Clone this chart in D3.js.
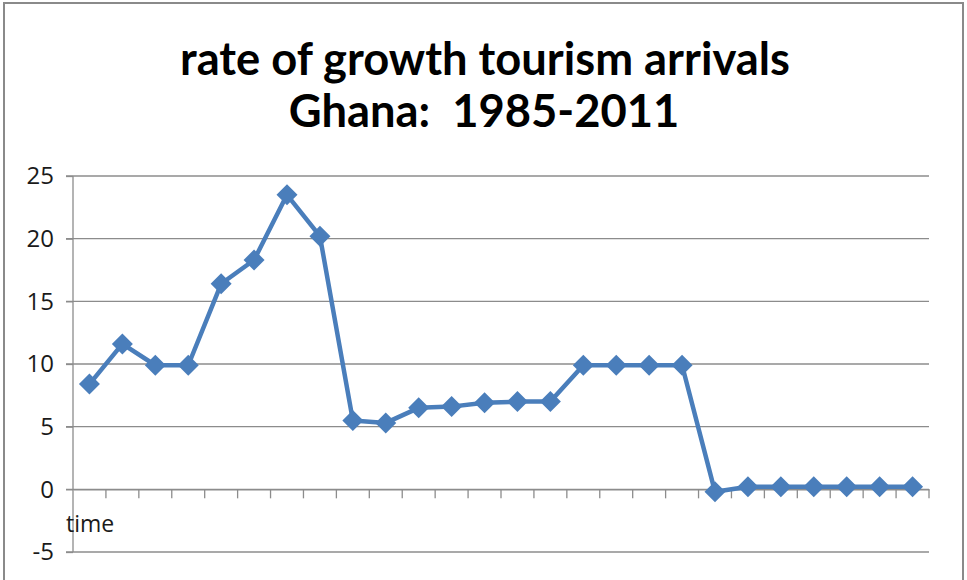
<!DOCTYPE html>
<html>
<head>
<meta charset="utf-8">
<script src="https://cdn.jsdelivr.net/npm/d3@7"></script>
<style>
  body { margin: 0; background: #fff; }
  svg { display: block; }
</style>
</head>
<body>
<div id="chart"></div>
<script>
// chart values
const titleLines = ["rate of growth tourism arrivals", "Ghana:  1985-2011"];
const years = [1986, 1987, 1988, 1989, 1990, 1991, 1992, 1993, 1994, 1995, 1996, 1997, 1998,
               1999, 2000, 2001, 2002, 2003, 2004, 2005, 2006, 2007, 2008, 2009, 2010, 2011];
const growth = [8.4, 11.6, 9.9, 9.9, 16.4, 18.3, 23.5, 20.2, 5.5, 5.3, 6.5, 6.6, 6.9,
                7.0, 7.0, 9.9, 9.9, 9.9, 9.9, -0.2, 0.2, 0.2, 0.2, 0.2, 0.2, 0.2];
const yTicks = [-5, 0, 5, 10, 15, 20, 25];
const axisLabel = "time";

const width = 967;
const height = 580;
const marginLeft = 73;
const marginRight = 38;
const blue = "#4a7ebb";
const gridColor = "#8c8c8c";

const svg = d3.select("#chart").append("svg")
    .attr("width", width)
    .attr("height", height)
    .attr("viewBox", [0, 0, width, height]);

// outer chart border
svg.append("rect")
    .attr("x", 4).attr("y", 3)
    .attr("width", 959).attr("height", 600)
    .attr("fill", "none")
    .attr("stroke", "#8a8a8a")
    .attr("stroke-width", 2);

// title, shrunk to the width it has in the reference
const title = svg.append("g")
    .attr("font-family", "Lato, 'Open Sans', sans-serif")
    .attr("font-weight", 700)
    .attr("fill", "#000")
    .attr("text-anchor", "middle");
const t1 = title.append("text").attr("x", 485).attr("y", 75).attr("font-size", 44).text(titleLines[0]);
const w1 = t1.node().getComputedTextLength();
const fs = 44 * 610 / w1;
t1.attr("font-size", fs);
title.append("text").attr("x", 484).attr("y", 127).attr("font-size", fs)
    .attr("xml:space", "preserve").style("white-space", "pre").text(titleLines[1]);

// scales
const x = d3.scaleBand()
    .domain(years)
    .range([marginLeft, width - marginRight]);

const y = d3.scaleLinear()
    .domain([-5, 25])
    .range([552, 176]);

// gridlines
svg.append("g")
    .attr("stroke", gridColor)
    .attr("stroke-width", 1.3)
    .selectAll("line")
    .data(yTicks)
    .join("line")
    .attr("x1", marginLeft - 7)
    .attr("x2", width - marginRight)
    .attr("y1", d => y(d))
    .attr("y2", d => y(d));

// vertical axis
svg.append("g")
    .attr("transform", `translate(${marginLeft},0)`)
    .call(d3.axisLeft(y).tickValues(yTicks).tickSize(7).tickPadding(12).tickFormat(d => String(d)))
    .call(g => g.selectAll("line, path").attr("stroke", gridColor).attr("stroke-width", 1.3))
    .call(g => g.select(".domain").attr("d", `M0,${y(25)}V${y(-5)}`))
    .call(g => g.selectAll("text")
        .attr("font-family", "'Open Sans', sans-serif")
        .attr("font-size", 24)
        .attr("fill", "#1a1a1a"));

// category axis crossing at zero, ticks between categories
const xAxis = svg.append("g")
    .attr("transform", `translate(0,${y(0)})`)
    .call(d3.axisBottom(x).tickSize(9).tickFormat(() => "").tickSizeOuter(0));
xAxis.selectAll(".tick").attr("transform", d => `translate(${x(d) + x.bandwidth()},0)`);
xAxis.selectAll("line, path").attr("stroke", gridColor).attr("stroke-width", 1.3);

svg.append("text")
    .attr("x", 66)
    .attr("y", 532)
    .attr("font-family", "'Open Sans', sans-serif")
    .attr("font-size", 23)
    .attr("fill", "#1a1a1a")
    .text(axisLabel);

// series line
const pts = years.map((yr, i) => [x(yr) + x.bandwidth() / 2, y(growth[i])]);
svg.append("path")
    .datum(pts)
    .attr("fill", "none")
    .attr("stroke", blue)
    .attr("stroke-width", 4.5)
    .attr("stroke-linejoin", "round")
    .attr("d", d3.line());

// diamond markers
svg.append("g")
    .attr("fill", blue)
    .selectAll("path")
    .data(pts)
    .join("path")
    .attr("transform", d => `translate(${d[0]},${d[1]})`)
    .attr("d", "M0,-10.5L10.5,0L0,10.5L-10.5,0Z");
</script>
</body>
</html>
